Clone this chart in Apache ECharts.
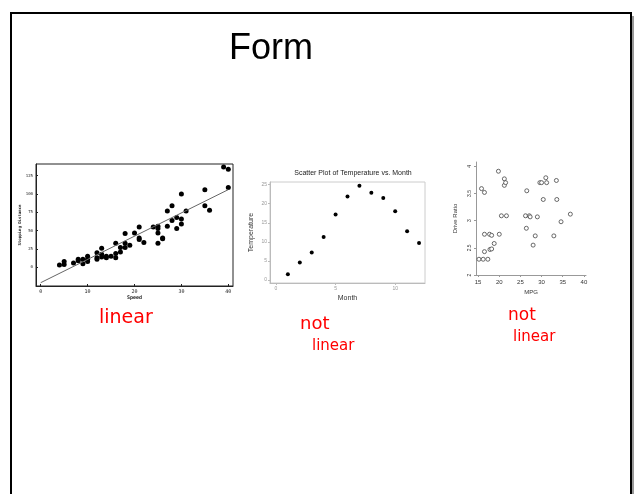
<!DOCTYPE html>
<html><head><meta charset="utf-8">
<script src="https://cdn.jsdelivr.net/npm/echarts@6/dist/echarts.min.js"></script>
<style>html,body{margin:0;padding:0;background:#fff}#c{width:637px;height:494px}</style>
</head><body><div id="c"></div>
<script>
// Plot 1: Stopping distance vs speed
var speedX = [4,5,5,7,8,8,9,9,10,10,10,12,12,12,13,13,13,14,14,15,16,16,16,17,17,18,18,18,19,20,21,21,21,22,24,25,25,25,25,26,26,27,27,28,28,29,29,30,30,30,31,35,35,36,39,40,40];
var distY  = [3,4,8,6,9,11,5,11,11,15,8,13,20,11,26,18,14,13,15,15,33,19,13,27,21,46,33,27,30,47,55,40,38,34,55,56,53,47,33,39,40,77,56,84,64,68,53,100,66,59,77,106,84,78,137,134,109];
var fitX = [0,40];
var fitY = [-21,106];
var p1XTicks = [0,10,20,30,40];
var p1YTicks = [0,25,50,75,100,125];
// Plot 2: Temperature vs month
var months = [1,2,3,4,5,6,7,8,9,10,11,12];
var temps  = [1.5,4.6,7.2,11.3,17.2,21.9,24.7,22.9,21.5,18.0,12.8,9.7];
var p2XTicks = [0,5,10];
var p2YTicks = [0,5,10,15,20,25];
// Plot 3: Drive ratio vs MPG
var mpg   = [15.2,16.2,17.3,15.8,16.5,16.5,16.5,17.7,18.2,17.8,18.2,18.8,19.8,20.0,20.5,21.2,21.2,21.5,21.7,26.5,26.2,27.1,27.3,26.4,28.5,28.0,29.0,29.6,30.0,30.4,31.0,31.2,33.5,33.6,32.9,34.6,36.8];
var ratio = [2.29,2.29,2.29,3.59,3.52,2.75,2.43,2.75,2.73,2.47,2.48,2.58,3.91,2.75,3.09,3.77,3.65,3.70,3.09,3.55,3.09,3.09,3.07,2.86,2.72,2.55,3.07,3.70,3.70,3.39,3.79,3.70,3.74,3.39,2.72,2.98,3.12];
var p3XTicks = [15,20,25,30,35,40];
var p3YTicks = [2,2.5,3,3.5,4];

function zip(a,b){return a.map(function(v,i){return [v,b[i]];});}

var chart = echarts.init(document.getElementById('c'));
var mono = 'DejaVu Sans Mono';
var sans = 'Liberation Sans';
var hand = '"DejaVu Sans"';
chart.setOption({
  animation:false,
  backgroundColor:'#fff',
  title:[
    {text:'Form', left:266, top:26, textAlign:'center', textStyle:{fontFamily:sans,fontSize:36,fontWeight:'normal',color:'#000'}},
    {text:'Scatter Plot of Temperature vs. Month', left:348, top:165, textAlign:'center', textStyle:{fontFamily:sans,fontSize:7,fontWeight:'normal',color:'#222'}}
  ],
  graphic:[
    {type:'rect', shape:{x:11,y:13,width:620,height:500}, style:{fill:'none',stroke:'#000',lineWidth:2}, z:-1},
    {type:'line', shape:{x1:633,y1:16,x2:633,y2:494}, style:{stroke:'#999',lineWidth:2}, z:-1},
    {type:'text', left:99, top:309, style:{text:'linear',fill:'#f00',font:'19px '+hand}},
    {type:'text', left:300, top:315, style:{text:'not',fill:'#f00',font:'18px '+hand}},
    {type:'text', left:312, top:339, style:{text:'linear',fill:'#f00',font:'15px '+hand}},
    {type:'text', left:508, top:307, style:{text:'not',fill:'#f00',font:'17px '+hand}},
    {type:'text', left:513, top:330, style:{text:'linear',fill:'#f00',font:'15px '+hand}}
  ],
  grid:[
    {left:36, top:164, width:197, height:122, show:true, borderColor:'#222', borderWidth:1},
    {left:270, top:182, width:155, height:101, show:true, borderColor:'#ccc', borderWidth:1},
    {left:476, top:162, width:110, height:113}
  ],
  xAxis:[
    {gridIndex:0, type:'value', min:-1, max:41, name:'Speed', nameLocation:'middle', nameGap:9,
     nameTextStyle:{fontFamily:mono,fontSize:5,fontWeight:'bold',color:'#222'},
     splitLine:{show:false}, axisLine:{onZero:false,lineStyle:{color:'#222'}},
     axisTick:{inside:true,length:2,customValues:p1XTicks,lineStyle:{color:'#222'}},
     axisLabel:{customValues:p1XTicks,fontFamily:mono,fontSize:5,color:'#222',margin:3}},
    {gridIndex:1, type:'value', min:-0.5, max:12.5, name:'Month', nameLocation:'middle', nameGap:12,
     nameTextStyle:{fontFamily:sans,fontSize:7,color:'#333'},
     splitLine:{show:false}, axisLine:{onZero:false,lineStyle:{color:'#bbb'}},
     axisTick:{length:2,customValues:p2XTicks,lineStyle:{color:'#bbb'}},
     axisLabel:{customValues:p2XTicks,fontFamily:sans,fontSize:5,color:'#999',margin:3}},
    {gridIndex:2, type:'value', min:14.5, max:40.5, name:'MPG', nameLocation:'middle', nameGap:14,
     nameTextStyle:{fontFamily:sans,fontSize:6,color:'#333'},
     splitLine:{show:false}, axisLine:{onZero:false,lineStyle:{color:'#999'}},
     axisTick:{length:2,customValues:p3XTicks,lineStyle:{color:'#999'}},
     axisLabel:{customValues:p3XTicks,fontFamily:sans,fontSize:6,color:'#333',margin:4}}
  ],
  yAxis:[
    {gridIndex:0, type:'value', min:-25.5, max:141, name:'Stopping Distance', nameLocation:'middle', nameGap:12,
     nameTextStyle:{fontFamily:mono,fontSize:4,fontWeight:'bold',color:'#222'},
     splitLine:{show:false}, axisLine:{onZero:false,lineStyle:{color:'#222'}},
     axisTick:{inside:true,length:2,customValues:p1YTicks,lineStyle:{color:'#222'}},
     axisLabel:{customValues:p1YTicks,fontFamily:mono,fontSize:4,color:'#222',margin:3}},
    {gridIndex:1, type:'value', min:-0.8, max:25.7, name:'Temperature', nameLocation:'middle', nameGap:15,
     nameTextStyle:{fontFamily:sans,fontSize:7,color:'#333'},
     splitLine:{show:false}, axisLine:{onZero:false,lineStyle:{color:'#bbb'}},
     axisTick:{length:2,customValues:p2YTicks,lineStyle:{color:'#bbb'}},
     axisLabel:{customValues:p2YTicks,fontFamily:sans,fontSize:5,color:'#999',margin:3}},
    {gridIndex:2, type:'value', min:2, max:4.08, name:'Drive Ratio', nameLocation:'middle', nameGap:18,
     nameTextStyle:{fontFamily:sans,fontSize:6,color:'#333'},
     splitLine:{show:false}, axisLine:{show:true,onZero:false,lineStyle:{color:'#999'}},
     axisTick:{show:true,length:2,customValues:p3YTicks,lineStyle:{color:'#999'}},
     axisLabel:{customValues:p3YTicks,rotate:90,fontFamily:sans,fontSize:5,color:'#333',margin:4}}
  ],
  series:[
    {type:'line', xAxisIndex:0, yAxisIndex:0, data:zip(fitX,fitY), showSymbol:false, symbol:'none',
     lineStyle:{color:'#666',width:1}, silent:true},
    {type:'scatter', xAxisIndex:0, yAxisIndex:0, data:zip(speedX,distY), symbolSize:5,
     itemStyle:{color:'#000',opacity:1}},
    {type:'scatter', xAxisIndex:1, yAxisIndex:1, data:zip(months,temps), symbolSize:4,
     itemStyle:{color:'#000',opacity:1}},
    {type:'scatter', xAxisIndex:2, yAxisIndex:2, data:zip(mpg,ratio), symbol:'circle', symbolSize:4,
     itemStyle:{color:'#fff',borderColor:'#444',borderWidth:0.8,opacity:1}}
  ]
});
</script></body></html>
